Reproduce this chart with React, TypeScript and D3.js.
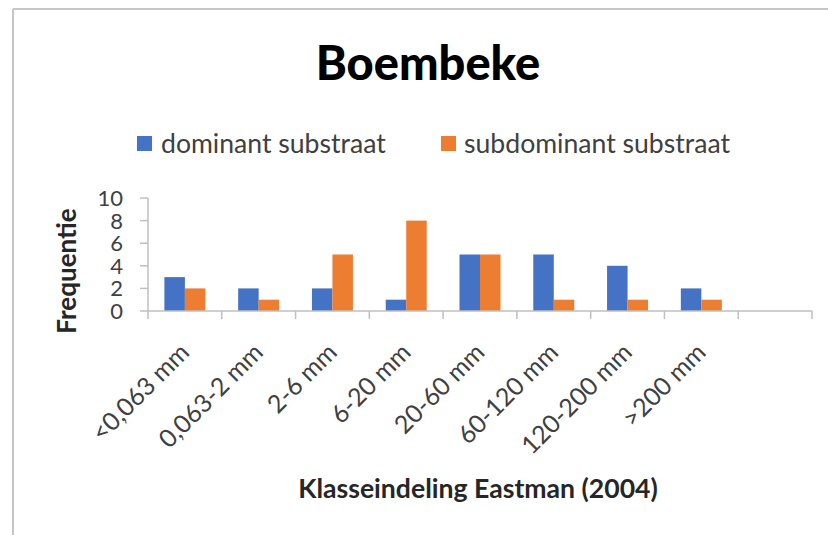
import React from "react";
import * as d3 from "d3";

const categories = ["<0,063 mm", "0,063-2 mm", "2-6 mm", "6-20 mm", "20-60 mm", "60-120 mm", "120-200 mm", ">200 mm", ""];
const seriesNames = ["dominant substraat", "subdominant substraat"];
const dominant = [3, 2, 2, 1, 5, 5, 4, 2, null];
const subdominant = [2, 1, 5, 8, 5, 1, 1, 1, null];
const yTicks = [0, 2, 4, 6, 8, 10];
const colors = ["#4472C4", "#ED7D31"];

const W = 828;
const H = 535;
const FONT = "Lato, 'Open Sans', sans-serif";

export default function App() {
  const x0 = d3.scaleBand<string>().domain(categories.map((c, i) => String(i))).range([148, 812]).padding(0);
  const x1 = d3.scaleBand<string>().domain(seriesNames).range([0, x0.bandwidth()]).paddingInner(0).paddingOuter(0.8);
  const y = d3.scaleLinear().domain([0, 10]).range([311, 198]);
  const values = [dominant, subdominant];
  const boundaries = d3.range(categories.length + 1).map((i) => 148 + i * x0.step());

  return (
    <svg width={W} height={H} style={{ position: "absolute", left: 0, top: 0, display: "block" }}>
      <rect x={0} y={0} width={W} height={H} fill="#fff" />
      {/* frame */}
      <line x1={13} y1={9} x2={W} y2={9} stroke="#c6c6c6" strokeWidth={2} />
      <line x1={13} y1={9} x2={13} y2={H} stroke="#c6c6c6" strokeWidth={2} />

      {/* title */}
      <text x={428} y={80} textAnchor="middle" fontFamily={FONT} fontWeight="900" fontSize={47} fill="#000">
        Boembeke
      </text>

      {/* legend */}
      <rect x={137} y={136} width={15} height={15} fill={colors[0]} />
      <text x={161} y={153} fontFamily={FONT} fontSize={26.6} fill="#404040">{seriesNames[0]}</text>
      <rect x={441} y={136} width={15} height={15} fill={colors[1]} />
      <text x={464} y={153} fontFamily={FONT} fontSize={26.6} fill="#404040">{seriesNames[1]}</text>

      {/* y axis */}
      <line x1={148} y1={y(10)} x2={148} y2={y(0)} stroke="#bfbfbf" strokeWidth={1.5} />
      {yTicks.map((t) => (
        <g key={t}>
          <line x1={140} x2={148} y1={y(t)} y2={y(t)} stroke="#bfbfbf" strokeWidth={1.5} />
          <text x={123} y={y(t)} dy="0.36em" textAnchor="end" fontFamily={FONT} fontSize={22} fill="#404040">
            {t}
          </text>
        </g>
      ))}
      <text
        transform={`translate(76,${271}) rotate(-90)`}
        textAnchor="middle"
        fontFamily={FONT}
        fontWeight="bold"
        fontSize={26}
        fill="#262626"
      >
        Frequentie
      </text>

      {/* bars */}
      {categories.map((c, i) => (
        <g key={i} transform={`translate(${x0(String(i))},0)`}>
          {seriesNames.map((s, j) => {
            const v = values[j][i];
            if (v == null) return null;
            return (
              <rect key={s} x={x1(s)} y={y(v)} width={x1.bandwidth()} height={y(0) - y(v)} fill={colors[j]} />
            );
          })}
        </g>
      ))}

      {/* x axis */}
      <line x1={148} x2={812} y1={y(0)} y2={y(0)} stroke="#bfbfbf" strokeWidth={1.5} />
      {boundaries.map((b, i) => (
        <line key={i} x1={b} x2={b} y1={y(0)} y2={y(0) + 8} stroke="#bfbfbf" strokeWidth={1.5} />
      ))}
      {categories.map((c, i) => (
        <text
          key={i}
          transform={`translate(${(x0(String(i)) as number) + x0.bandwidth() / 2 + 6},${354}) rotate(-45)`}
          textAnchor="end"
          fontFamily={FONT}
          fontSize={25}
          fill="#404040"
        >
          {c}
        </text>
      ))}
      <text x={478} y={498} textAnchor="middle" fontFamily={FONT} fontWeight="bold" fontSize={26.6} fill="#262626">
        Klasseindeling Eastman (2004)
      </text>
    </svg>
  );
}
